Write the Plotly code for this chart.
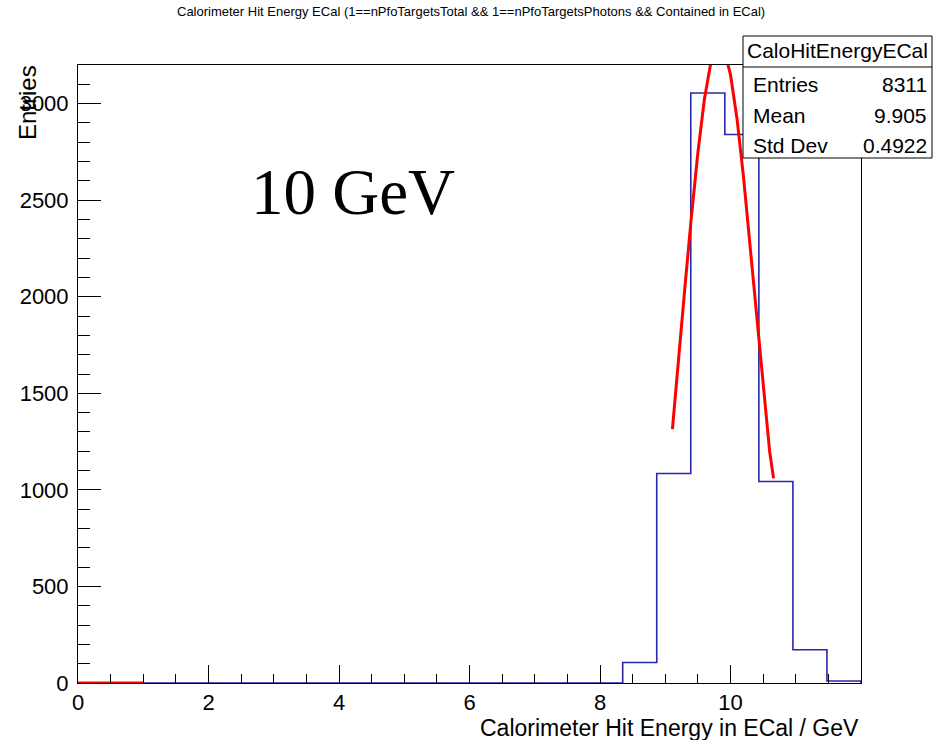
import numpy as np
import plotly.graph_objects as go

# ---------------- data ----------------
bin_low = 0.0
bin_high = 12.0
n_bins = 23
counts = [0, 0, 0, 0, 0, 0, 0, 0, 0, 0, 0, 0, 0, 0, 0, 0,
          106, 1085, 3055, 2840, 1043, 172, 10]

fit_x = [9.11, 9.2, 9.3, 9.4, 9.5, 9.6, 9.7, 9.8, 9.9, 10.0,
         10.1, 10.2, 10.3, 10.4, 10.5, 10.6, 10.66]
fit_y = [1315, 1676, 2045, 2411, 2746, 3023, 3215, 3305, 3282, 3150,
         2921, 2618, 2266, 1896, 1533, 1198, 1060]

aux_x = [0.0, 1.0]
aux_y = [0, 0]

stats_name = "CaloHitEnergyECal"
stats_labels = ["Entries", "Mean", "Std Dev"]
stats_values = ["8311", "9.905", "0.4922"]

title_text = "Calorimeter Hit Energy ECal (1==nPfoTargetsTotal && 1==nPfoTargetsPhotons && Contained in ECal)"
x_title = "Calorimeter Hit Energy in ECal / GeV"
y_title = "Entries"
label_text = "10 GeV"

# ---------------- geometry ----------------
W, H = 933, 740
L, R, T, B = 78, 861, 65, 683
PW, PH = R - L, B - T


def px(x):
    return (x - L) / PW


def py(y):
    return (B - y) / PH


edges = np.linspace(bin_low, bin_high, n_bins + 1)
step_x = list(edges)
step_y = list(counts) + [0]

FONT = "Liberation Sans, Arial, Helvetica, sans-serif"
HIST_COLOR = "#2828a8"

fig = go.Figure()
fig.add_trace(go.Scatter(x=step_x, y=step_y, mode="lines", line_shape="hv",
                         line=dict(color=HIST_COLOR, width=1.6),
                         showlegend=False, hoverinfo="skip"))
fig.add_trace(go.Scatter(x=fit_x, y=fit_y, mode="lines",
                         line=dict(color="#ff0000", width=3),
                         showlegend=False, hoverinfo="skip"))
fig.add_trace(go.Scatter(x=aux_x, y=aux_y, mode="lines",
                         line=dict(color="#ff0000", width=3), cliponaxis=False,
                         showlegend=False, hoverinfo="skip"))

fig.update_layout(
    width=W, height=H,
    margin=dict(l=L, r=W - R, t=T, b=H - B, pad=0),
    paper_bgcolor="white", plot_bgcolor="white",
    font=dict(family=FONT, color="black"),
    showlegend=False,
)

fig.update_xaxes(
    range=[0, 12], showgrid=False, zeroline=False,
    showline=True, linecolor="black", linewidth=1, mirror=True,
    ticks="inside", ticklen=18, tickwidth=1, tickcolor="black",
    tickvals=[0, 2, 4, 6, 8, 10], ticktext=["0", "2", "4", "6", "8", "10"],
    tickfont=dict(size=22, family=FONT), ticklabelstandoff=0,
    minor=dict(ticks="inside", ticklen=9, tickwidth=1, tickcolor="black", dtick=0.5, showgrid=False),
)
fig.update_yaxes(
    range=[0, 3200], showgrid=False, zeroline=False,
    showline=True, linecolor="black", linewidth=1, mirror=True,
    ticks="inside", ticklen=23, tickwidth=1, tickcolor="black",
    tickvals=[0, 500, 1000, 1500, 2000, 2500, 3000],
    ticktext=["0", "500", "1000", "1500", "2000", "2500", "3000"],
    tickfont=dict(size=22, family=FONT), ticklabelstandoff=4,
    minor=dict(ticks="inside", ticklen=12, tickwidth=1, tickcolor="black", dtick=100, showgrid=False),
)

# stats box
bx0, bx1, by0, by1, bydiv = 743, 932, 36, 158, 67
fig.add_shape(type="rect", xref="paper", yref="paper",
              x0=px(bx0), x1=px(bx1), y0=py(by1), y1=py(by0),
              line=dict(color="black", width=1), fillcolor="white", layer="above")
fig.add_shape(type="line", xref="paper", yref="paper",
              x0=px(bx0), x1=px(bx1), y0=py(bydiv), y1=py(bydiv),
              line=dict(color="black", width=1), layer="above")

annotations = []
annotations.append(dict(text=stats_name, x=px((bx0 + bx1) / 2), y=py(51),
                        xanchor="center", yanchor="middle", font=dict(size=21, family=FONT)))
for i, (lab, val) in enumerate(zip(stats_labels, stats_values)):
    yy = 85 + 30 * i
    annotations.append(dict(text=lab, x=px(751), y=py(yy), xanchor="left", yanchor="middle",
                            font=dict(size=21, family=FONT)))
    annotations.append(dict(text=val, x=px(929), y=py(yy), xanchor="right", yanchor="middle",
                            font=dict(size=21, family=FONT)))

annotations.append(dict(text=title_text, x=px(471), y=py(12), xanchor="center", yanchor="middle",
                        font=dict(size=13, family=FONT)))
annotations.append(dict(text=x_title, x=px(861), y=py(728), xanchor="right", yanchor="middle",
                        font=dict(size=23, family=FONT)))
annotations.append(dict(text=y_title, x=px(27), y=py(103), xanchor="center", yanchor="middle",
                        textangle=-90, font=dict(size=24, family=FONT)))
annotations.append(dict(text=label_text, x=px(353), y=py(192), xanchor="center", yanchor="middle",
                        font=dict(size=65, family="Liberation Serif, Times New Roman, serif")))

for a in annotations:
    a.update(xref="paper", yref="paper", showarrow=False)
fig.update_layout(annotations=annotations)

fig.write_html("out.html")
